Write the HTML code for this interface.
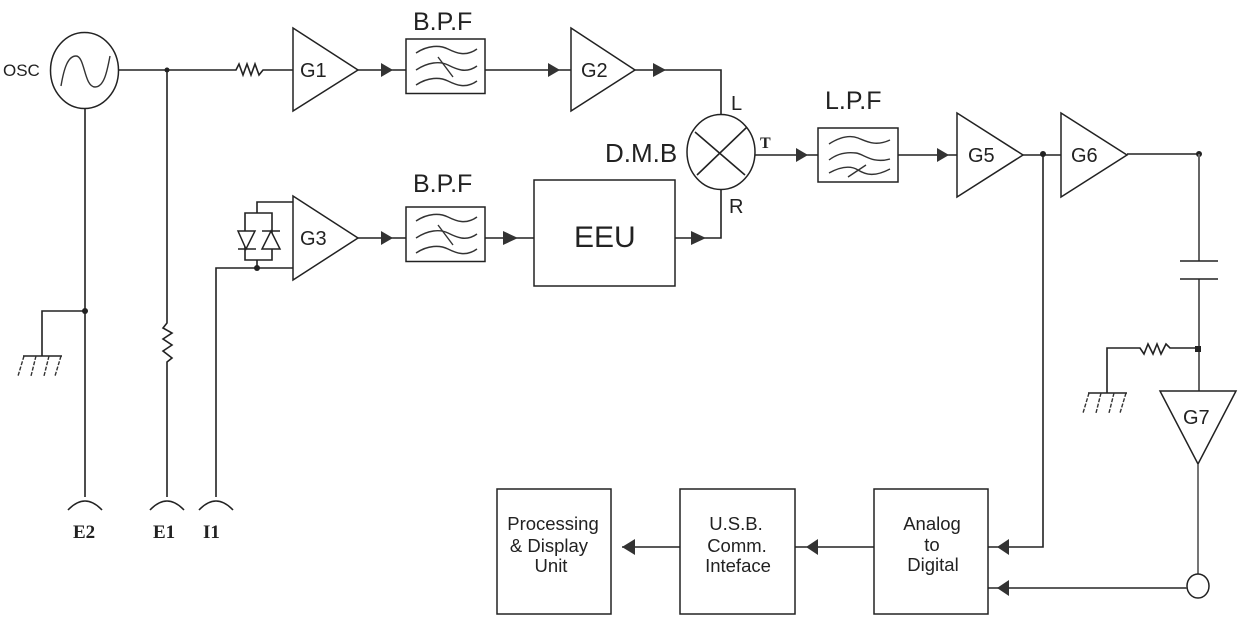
<!DOCTYPE html>
<html><head><meta charset="utf-8"><style>
html,body{margin:0;padding:0;background:#fff;width:1240px;height:618px;overflow:hidden}
svg{display:block}
.l{fill:none;stroke:#222;stroke-width:1.6}
.t{fill:#fff;stroke:#222;stroke-width:1.5}
.a{fill:#333;stroke:none}
.w{fill:none;stroke:#333;stroke-width:1.4}
text{font-family:"Liberation Sans",sans-serif;fill:#222}
.s{font-family:"Liberation Serif",serif;font-weight:bold}
</style></head><body>
<svg width="1240" height="618" viewBox="0 0 1240 618" xmlns="http://www.w3.org/2000/svg">
<defs>
<g id="f">
<rect class="t" x="0" y="0" width="79" height="54.5"/>
<path class="w" d="M10 14 C22 6 34 6 42 10 S60 18 71 10"/>
<path class="w" d="M10 31 C22 23 34 22 42 26 S60 35 71 27"/>
<path class="w" d="M10 46 C22 38 34 38 42 42 S60 50 71 42"/>
<path class="w" d="M32 18 L47 38"/>
</g>
<g id="gnd">
<path class="l" d="M0 0H39"/>
<path class="w" stroke-dasharray="4 1.5" d="M1 0L-5 20M13 0L8 20M26 0L21 20M38 0L32 20"/>
</g>
<path id="arc" class="l" d="M-17 9 Q0 -9 17 9"/>
</defs>

<!-- OSC -->
<text x="3" y="76" font-size="17">OSC</text>
<ellipse class="t" cx="84.5" cy="70.5" rx="34" ry="38"/>
<path class="w" stroke-width="1.7" d="M61 86 C64 68 68 56 76 56 C85 56 84 87 95 87 C104 87 107 72 110 56"/>

<!-- top wires -->
<path class="l" d="M118 70H233L236 70L239 64L243 75L247 64L251 75L255 64L259 75L263 70H293"/>
<path class="l" d="M358 70H406M485 70H571M635 70H721V114"/>
<polygon class="t" points="293,28 358,70 293,111"/>
<polygon class="t" points="571,28 635,70 571,111"/>
<text x="300" y="77" font-size="20">G1</text>
<text x="581" y="77" font-size="20">G2</text>
<use href="#f" x="406" y="39"/>
<text x="413" y="30" font-size="25">B.P.F</text>
<polygon class="a" points="381,63 393,70 381,77"/>
<polygon class="a" points="548,63 560,70 548,77"/>
<polygon class="a" points="653,63 666,70 653,77"/>
<circle cx="167" cy="70" r="2.5" fill="#222"/>

<!-- E2, E1, I1 -->
<path class="l" d="M85 108V497M85 311H42V356"/>
<circle cx="85" cy="311" r="3" fill="#222"/>
<use href="#gnd" x="23" y="356"/>
<path class="l" d="M167 70V323L163 328L172 333L163 339L172 345L163 351L172 358L167 362V497"/>
<path class="l" d="M216 497V268H293"/>
<use href="#arc" x="85" y="501"/>
<use href="#arc" x="167" y="501"/>
<use href="#arc" x="216" y="501"/>
<text class="s" x="73" y="538" font-size="19">E2</text>
<text class="s" x="153" y="538" font-size="19">E1</text>
<text class="s" x="203" y="538" font-size="19">I1</text>

<!-- G3 + diodes -->
<path class="l" d="M293 202H257V213M245 213H272V260H245ZM257 260V268"/>
<path class="t" stroke-width="1.4" d="M238 231H255L246 249ZM238 249H256"/>
<path class="t" stroke-width="1.4" d="M262 249H280L271 231ZM262 231H280"/>
<circle cx="257" cy="268" r="3" fill="#222"/>
<polygon class="t" points="293,196 358,238 293,280"/>
<text x="300" y="245" font-size="20">G3</text>
<path class="l" d="M358 238H406M485 238H534M675 238H721V189"/>
<polygon class="a" points="381,231 393,238 381,245"/>
<polygon class="a" points="503,231 518,238 503,245"/>
<polygon class="a" points="691,231 706,238 691,245"/>
<use href="#f" x="406" y="207"/>
<text x="413" y="192" font-size="25">B.P.F</text>
<rect class="t" x="534" y="180" width="141" height="106"/>
<text x="574" y="247" font-size="30">EEU</text>

<!-- mixer -->
<ellipse class="t" cx="721" cy="152" rx="34" ry="37.5"/>
<path class="l" d="M695 132L745 175M747 127L697 175"/>
<text x="605" y="162" font-size="26">D.M.B</text>
<text x="731" y="110" font-size="20">L</text>
<text x="729" y="213" font-size="20">R</text>
<text class="s" x="760" y="148" font-size="16">T</text>

<!-- LPF -->
<path class="l" d="M755 155H818M898 155H957M1023 155H1061M1127 154H1199"/>
<polygon class="a" points="796,148 808,155 796,162"/>
<polygon class="a" points="937,148 949,155 937,162"/>
<rect class="t" x="818" y="128" width="80" height="54"/>
<path class="w" d="M829 144C840 137 850 135 858 138S875 147 890 140"/>
<path class="w" d="M829 160C838 153 848 152 856 153S872 164 890 159"/>
<path class="w" d="M829 173C840 167 850 165 858 170S875 177 890 169M848 177L866 165"/>
<text x="825" y="109" font-size="25">L.P.F</text>

<polygon class="t" points="957,113 1023,155 957,197"/>
<polygon class="t" points="1061,113 1127,155 1061,197"/>
<text x="968" y="162" font-size="20">G5</text>
<text x="1071" y="162" font-size="20">G6</text>
<circle cx="1043" cy="154" r="3" fill="#222"/>
<circle cx="1199" cy="154" r="3" fill="#222"/>

<!-- right column -->
<path d="M1199 154V261M1199 279V391" fill="none" stroke="#666" stroke-width="2"/>
<path class="l" d="M1180 261H1218"/>
<path class="l" d="M1180 279H1218"/>
<path class="l" stroke-width="1.2" d="M1107 393V348H1140L1144 354L1148 344L1153 354L1157 344L1161 354L1166 344L1170 348H1198"/>
<rect x="1195" y="346" width="6" height="6" fill="#222"/>
<use href="#gnd" x="1088" y="393"/>
<polygon class="t" points="1160,391 1236,391 1198,464"/>
<text x="1183" y="424" font-size="20">G7</text>
<path d="M1198 464V575" fill="none" stroke="#666" stroke-width="1.8"/>
<ellipse class="t" cx="1198" cy="586" rx="11" ry="12"/>
<path class="l" d="M1043 154V547H988"/>
<path d="M1187 588H988" fill="none" stroke="#444" stroke-width="1.8"/>
<polygon class="a" points="997,588 1009,580 1009,596"/>
<polygon class="a" points="997,547 1009,539 1009,555"/>

<!-- bottom boxes -->
<rect class="t" x="497" y="489" width="114" height="125"/>
<rect class="t" x="680" y="489" width="115" height="125"/>
<rect class="t" x="874" y="489" width="114" height="125"/>
<path class="l" d="M874 547H795M680 547H622"/>
<polygon class="a" points="806,547 818,539 818,555"/>
<polygon class="a" points="622,547 635,539 635,555"/>
<g font-size="18.5" text-anchor="middle">
<text x="553" y="530">Processing</text>
<text x="549" y="552">&amp; Display</text>
<text x="551" y="572">Unit</text>
<text x="736" y="530">U.S.B.</text>
<text x="737" y="552">Comm.</text>
<text x="738" y="572">Inteface</text>
<text x="932" y="530">Analog</text>
<text x="932" y="551">to</text>
<text x="933" y="571">Digital</text>
</g>
</svg>
</body></html>
